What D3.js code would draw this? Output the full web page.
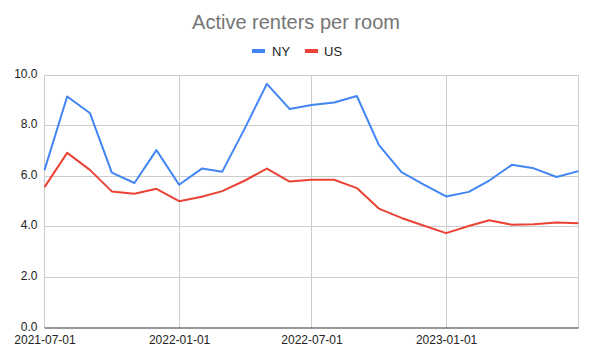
<!DOCTYPE html>
<html>
<head>
<meta charset="utf-8">
<script src="https://cdn.jsdelivr.net/npm/d3@7"></script>
<style>
  body { margin: 0; background: #fff; }
  svg { display: block; font-family: Arial, "Liberation Sans", sans-serif; }
</style>
</head>
<body>
<svg id="chart" width="593" height="359"></svg>
<script>
const months = ["2021-07-01","2021-08-01","2021-09-01","2021-10-01","2021-11-01","2021-12-01",
  "2022-01-01","2022-02-01","2022-03-01","2022-04-01","2022-05-01","2022-06-01",
  "2022-07-01","2022-08-01","2022-09-01","2022-10-01","2022-11-01","2022-12-01",
  "2023-01-01","2023-02-01","2023-03-01","2023-04-01","2023-05-01","2023-06-01","2023-07-01"];
const nyValues = [6.24, 9.15, 8.50, 6.14, 5.73, 7.03, 5.66, 6.30, 6.18, 7.90, 9.65, 8.66,
  8.81, 8.91, 9.17, 7.24, 6.16, 5.68, 5.20, 5.38, 5.83, 6.45, 6.31, 5.97, 6.20];
const usValues = [5.57, 6.92, 6.25, 5.40, 5.31, 5.50, 5.01, 5.19, 5.41, 5.83, 6.30, 5.79,
  5.86, 5.86, 5.53, 4.72, 4.35, 4.05, 3.75, 4.03, 4.26, 4.08, 4.10, 4.17, 4.14];
const yTicks = [0, 2, 4, 6, 8, 10];
const xTicks = ["2021-07-01","2022-01-01","2022-07-01","2023-01-01"];
const seriesNames = ["NY", "US"];
const colors = ["#4285F4", "#EA4335"];

const parse = d3.utcParse("%Y-%m-%d");
const dates = months.map(parse);
const svg = d3.select("#chart");
const L = 44.5, R = 578.5, T = 75, B = 328;

const x = d3.scaleUtc().domain([dates[0], dates[dates.length - 1]]).range([L, R]);
const y = d3.scaleLinear().domain([0, 10]).range([B, T]);

// Title
svg.append("text").attr("x", 296).attr("y", 29).attr("text-anchor", "middle")
  .attr("font-size", 20).attr("fill", "#757575").text("Active renters per room");

// Legend
const legendItems = [
  { name: seriesNames[0], color: colors[0], mx: 252, tx: 272 },
  { name: seriesNames[1], color: colors[1], mx: 305, tx: 324 }
];
legendItems.forEach(d => {
  svg.append("rect").attr("x", d.mx).attr("y", 49).attr("width", 13).attr("height", 4)
    .attr("fill", d.color);
  svg.append("text").attr("x", d.tx).attr("y", 55.5).attr("font-size", 13)
    .attr("fill", "#222").text(d.name);
});

// Horizontal gridlines
svg.append("g").selectAll("line").data(yTicks.filter(v => v > 0)).join("line")
  .attr("x1", L).attr("x2", R).attr("y1", d => y(d)).attr("y2", d => y(d))
  .attr("stroke", "#cccccc").attr("stroke-width", 1).attr("shape-rendering", "crispEdges");

// Vertical gridlines
svg.append("g").selectAll("line").data(xTicks.map(parse).concat([dates[dates.length - 1]])).join("line")
  .attr("x1", d => x(d)).attr("x2", d => x(d)).attr("y1", T).attr("y2", B)
  .attr("stroke", "#cccccc").attr("stroke-width", 1).attr("shape-rendering", "crispEdges");

// Y axis labels
const yAxis = d3.axisLeft(y).tickValues(yTicks).tickFormat(d3.format(".1f")).tickSize(0).tickPadding(7);
svg.append("g").attr("transform", `translate(${L},0)`).call(yAxis)
  .call(g => g.select(".domain").remove())
  .call(g => g.selectAll("text").attr("font-size", 12).attr("fill", "#222").attr("dy", "0.18em")
    .attr("font-family", "Arial, 'Liberation Sans', sans-serif"));

// X axis labels
const xAxis = d3.axisBottom(x).tickValues(xTicks.map(parse)).tickFormat(d3.utcFormat("%Y-%m-%d"))
  .tickSize(0).tickPadding(7);
svg.append("g").attr("transform", `translate(0,${B})`).call(xAxis)
  .call(g => g.select(".domain").remove())
  .call(g => g.selectAll("text").attr("font-size", 12).attr("fill", "#222")
    .attr("font-family", "Arial, 'Liberation Sans', sans-serif"));

// Baseline
svg.append("line").attr("x1", L).attr("x2", R).attr("y1", y(0)).attr("y2", y(0))
  .attr("stroke", "#333").attr("stroke-width", 1.2);

// Lines
const line = d3.line().x((d, i) => x(dates[i])).y(d => y(d));
[nyValues, usValues].forEach((vals, i) => {
  svg.append("path").datum(vals).attr("d", line).attr("fill", "none")
    .attr("stroke", colors[i]).attr("stroke-width", 2).attr("stroke-linejoin", "round");
});
</script>
</body>
</html>
